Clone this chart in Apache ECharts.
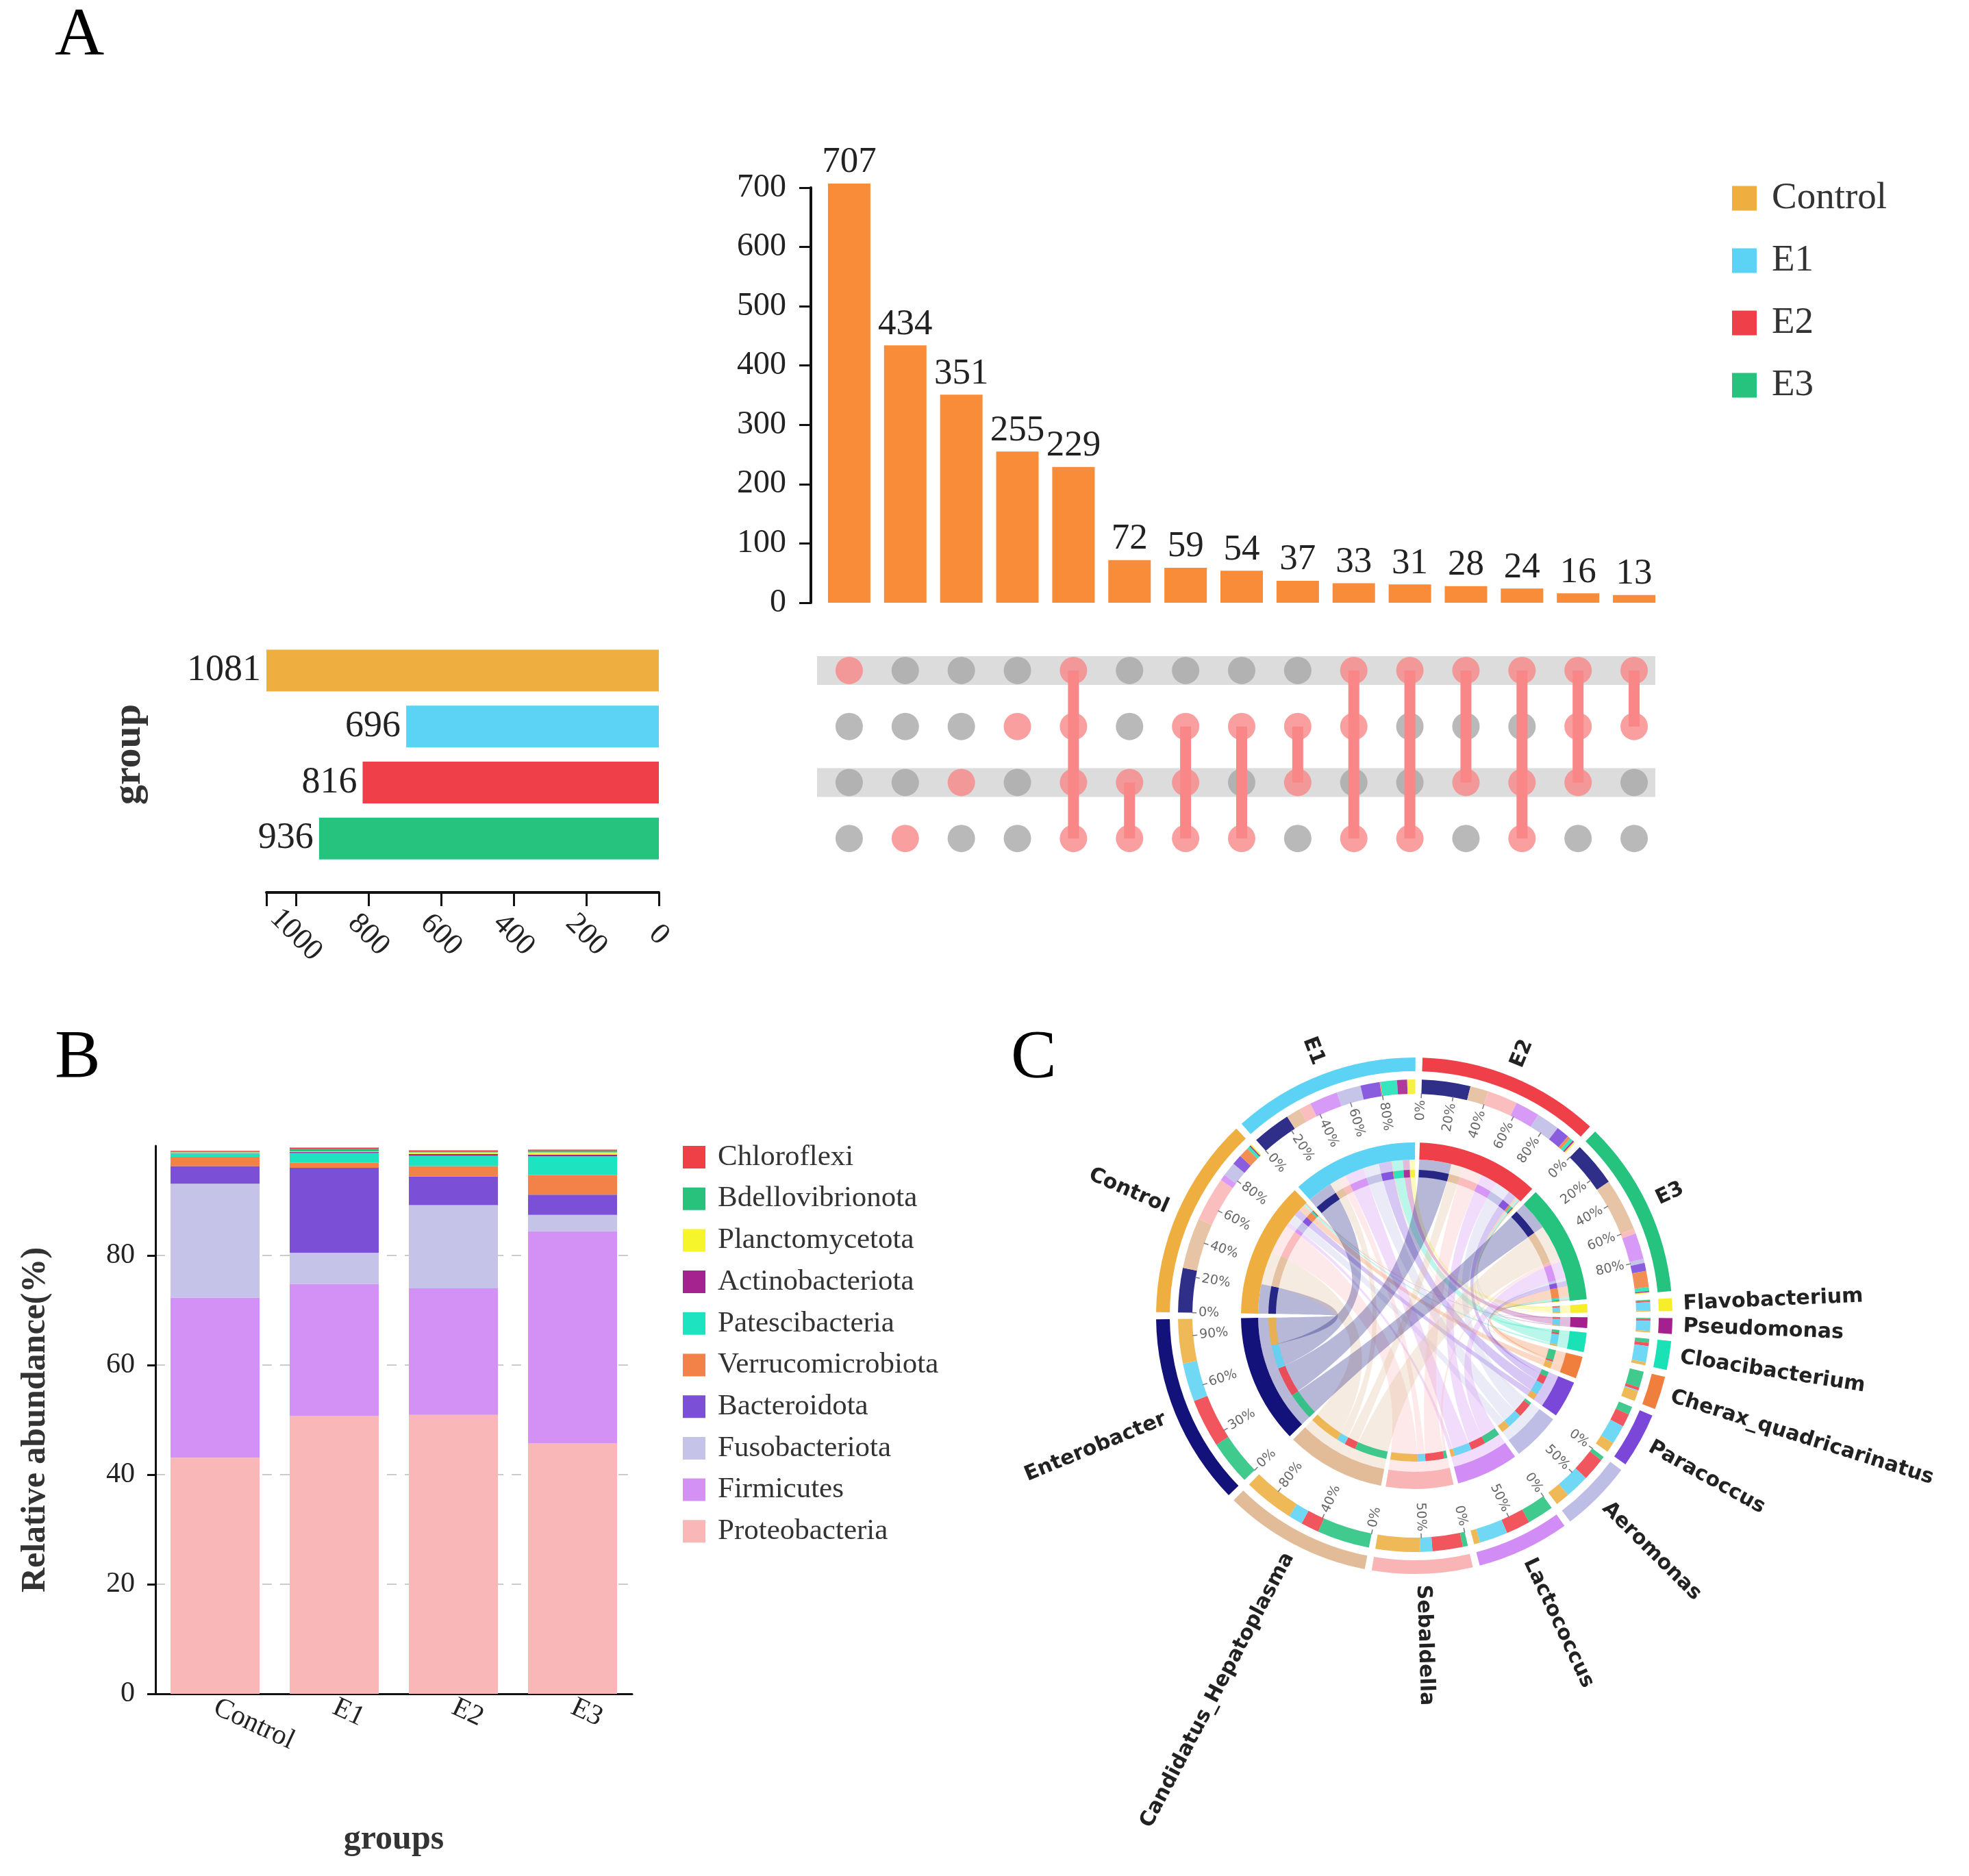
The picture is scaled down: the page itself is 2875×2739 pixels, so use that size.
<!DOCTYPE html>
<html><head><meta charset="utf-8">
<script src="https://cdn.jsdelivr.net/npm/echarts@6/dist/echarts.min.js"></script>
<style>html,body{margin:0;padding:0;background:#fff}#c{width:2875px;height:2739px}</style>
</head><body><div id="c"></div><script>
// ================= DATA =================
// Panel A : UpSet
const sets = ['Control', 'E1', 'E2', 'E3'];
const setSizes = [1081, 696, 816, 936];
const intersectionSizes = [707, 434, 351, 255, 229, 72, 59, 54, 37, 33, 31, 28, 24, 16, 13];
const intersectionMembers = [
  ['Control'], ['E3'], ['E2'], ['E1'], ['Control', 'E1', 'E2', 'E3'], ['E2', 'E3'],
  ['E1', 'E2', 'E3'], ['E1', 'E3'], ['E1', 'E2'], ['Control', 'E1', 'E3'], ['Control', 'E3'],
  ['Control', 'E2'], ['Control', 'E2', 'E3'], ['Control', 'E1', 'E2'], ['Control', 'E1']
];
const upsetTicks = [0, 100, 200, 300, 400, 500, 600, 700];
const setSizeTicks = [0, 200, 400, 600, 800, 1000];

// Panel B : phylum relative abundance (%)
const groupsB = ['Control', 'E1', 'E2', 'E3'];
const proteobacteria   = [43.1, 50.7, 50.9, 45.7];
const firmicutes       = [29.2, 24.1, 23.1, 38.7];
const fusobacteriota   = [20.8, 5.7, 15.2, 3.0];
const bacteroidota     = [3.2, 15.5, 5.2, 3.7];
const verrucomicrobiota = [1.7, 0.9, 1.9, 3.6];
const patescibacteria  = [0.6, 1.8, 1.9, 3.4];
const actinobacteriota = [0.1, 0.2, 0.3, 0.3];
const planctomycetota  = [0.1, 0.1, 0.3, 0.4];
const bdellovibrionota = [0.1, 0.5, 0.2, 0.3];
const chloroflexi      = [0.2, 0.2, 0.2, 0.2];
const phyla = ['Proteobacteria', 'Firmicutes', 'Fusobacteriota', 'Bacteroidota', 'Verrucomicrobiota',
  'Patescibacteria', 'Actinobacteriota', 'Planctomycetota', 'Bdellovibrionota', 'Chloroflexi'];
const phylumValues = [proteobacteria, firmicutes, fusobacteriota, bacteroidota, verrucomicrobiota,
  patescibacteria, actinobacteriota, planctomycetota, bdellovibrionota, chloroflexi];
const abundanceTicks = [0, 20, 40, 60, 80, 100];

// Panel C : genus abundance per group (chord)
const chordGroups = ['Control', 'E1', 'E2', 'E3'];
const chordGenera = ['Enterobacter', 'Candidatus_Hepatoplasma', 'Sebaldella', 'Lactococcus', 'Aeromonas',
  'Paracoccus', 'Cherax_quadricarinatus', 'Cloacibacterium', 'Pseudomonas', 'Flavobacterium'];
const chordControl = [22, 25, 22, 3, 7, 5, 5, 1.5, 0.7, 0.6];
const chordE1      = [19, 7, 6, 14, 12, 9.5, 0.5, 8, 5, 4];
const chordE2      = [24, 9, 15, 12, 11.5, 6.4, 1.5, 1.7, 0.8, 0.7];
const chordE3      = [22, 26, 2.5, 13, 2, 4, 8, 1.9, 0.6, 0.5];
const pctTickStep = {Control: 20, E1: 20, E2: 20, E3: 20, Enterobacter: 30,
  Candidatus_Hepatoplasma: 40, Sebaldella: 50, Lactococcus: 50, Aeromonas: 50};

// ================= STYLE =================
const groupColors = ['#EEAF40', '#5CD3F4', '#EF3F48', '#26C37E'];
const phylumColors = ['#F9B8B7', '#D391F6', '#C5C3E7', '#7B4FD6', '#F28247', '#1EE3C0', '#A4238F', '#F6F52B', '#29C27D', '#EF3F47'];
const genusColors = ['#12127A', '#E2BC98', '#F9B5B6', '#D18CF5', '#BEBDE6', '#7A47D9', '#F07F3D', '#1BE1B6', '#A3208E', '#F6EE2B'];
const SERIF = "'Liberation Serif', 'Times New Roman', serif";
const SANS = "'DejaVu Sans', sans-serif";
const barOrange = '#F98C38', dotOn = '#F98787', dotOff = '#A8A8A8';

// ================= PANEL C LAYOUT (derived from data) =================
const CX = 2065, CY = 1921;
const RA = [357, 377], RB = [324, 345], RC = [228, 253], RD = [202, 213], RRIB = 228, RLAB = 393;
const sum = a => a.reduce((s, v) => s + v, 0);
const chordMatrix = [chordControl, chordE1, chordE2, chordE3];
const groupTotals = chordMatrix.map(sum);
const genusTotals = chordGenera.map((_, k) => sum(chordMatrix.map(r => r[k])));
const grand = sum(groupTotals);
const GAP = 1.57;
const unit = (360 - GAP * (chordGroups.length + chordGenera.length)) / (2 * grand);
const nodes = [];
let cur = 180 - GAP / 2;
chordGroups.forEach((name, i) => {
  const span = groupTotals[i] * unit; const segs = []; let a = cur;
  chordGenera.forEach((g, k) => { const w = chordMatrix[i][k] * unit; segs.push({a1: a, a2: a - w, color: genusColors[k], key: k}); a -= w; });
  nodes.push({name, start: cur, end: cur - span, color: groupColors[i], segs});
  cur -= span + GAP;
});
for (let k = chordGenera.length - 1; k >= 0; k--) {
  const span = genusTotals[k] * unit; const segs = []; let a = cur;
  for (let i = chordGroups.length - 1; i >= 0; i--) { const w = chordMatrix[i][k] * unit; segs.push({a1: a, a2: a - w, color: groupColors[i], key: i}); a -= w; }
  nodes.push({name: chordGenera[k], start: cur, end: cur - span, color: genusColors[k], segs});
  cur -= span + GAP;
}
const links = [];
chordGroups.forEach((g, i) => chordGenera.forEach((gn, k) => {
  const gs = nodes[i].segs[k];
  const ts = nodes.find(n => n.name === gn).segs.find(s => s.key === i);
  links.push({s1: gs.a1, s2: gs.a2, t1: ts.a1, t2: ts.a2, color: genusColors[k]});
}));
const compSegs = nodes.flatMap(n => n.segs);
const ticks = [];
nodes.forEach(n => { const st = pctTickStep[n.name]; if (!st) return;
  for (let p = 0; p < 100; p += st) ticks.push({a: n.start - (n.start - n.end) * p / 100, text: p + '%'}); });

const D2R = Math.PI / 180;
const toXY = (r, deg) => [CX + r * Math.cos(deg * D2R), CY - r * Math.sin(deg * D2R)];
const sector = (rr, a1, a2, fill, op) => ({type: 'sector',
  shape: {cx: CX, cy: CY, r0: rr[0], r: rr[1], startAngle: -a1 * D2R, endAngle: -a2 * D2R, clockwise: true},
  style: {fill, opacity: op == null ? 1 : op}});
function ribbonPoints(l) {
  const pts = [];
  const arc = (a, b) => { const n = Math.max(2, Math.ceil(Math.abs(a - b) / 0.4)); for (let i = 0; i <= n; i++) pts.push(toXY(RRIB, a + (b - a) * i / n)); };
  const bez = (p0, p2) => { for (let i = 1; i < 40; i++) { const t = i / 40, u = 1 - t;
    pts.push([u * u * p0[0] + 2 * u * t * CX + t * t * p2[0], u * u * p0[1] + 2 * u * t * CY + t * t * p2[1]]); } };
  arc(l.s1, l.s2); bez(toXY(RRIB, l.s2), toXY(RRIB, l.t1)); arc(l.t1, l.t2); bez(toXY(RRIB, l.t2), toXY(RRIB, l.s1));
  return pts;
}

// ================= OPTION =================
const series = [];

// Panel A: intersection bars
series.push({type: 'bar', xAxisIndex: 0, yAxisIndex: 0, data: intersectionSizes, barWidth: 62, clip: false,
  itemStyle: {color: barOrange},
  label: {show: true, position: 'top', distance: 4, fontFamily: SERIF, fontSize: 53, color: '#222'}});
// matrix stripes
series.push({type: 'custom', xAxisIndex: 1, yAxisIndex: 1, z: 1, silent: true,
  data: sets.map((s, i) => [0, i]).filter((d, i) => i % 2 === 0),
  renderItem: (p, api) => { const y = api.coord([0, api.value(1)])[1]; const cs = p.coordSys;
    return {type: 'rect', shape: {x: cs.x - 6, y: y - 21, width: cs.width - 4, height: 42}, style: {fill: '#DCDCDC'}}; }});
// matrix dots
const dots = [];
intersectionMembers.forEach((m, c) => sets.forEach((s, r) => dots.push({value: [c, r], itemStyle: {color: m.includes(s) ? dotOn : dotOff}})));
series.push({type: 'scatter', xAxisIndex: 1, yAxisIndex: 1, z: 2, symbolSize: 40, data: dots, silent: true});
// matrix connectors
series.push({type: 'custom', xAxisIndex: 1, yAxisIndex: 1, z: 3, silent: true,
  encode: {x: 0, y: [1, 2]},
  data: intersectionMembers.map((m, c) => { const rows = m.map(s => sets.indexOf(s)); return [c, Math.min(...rows), Math.max(...rows)]; }).filter(d => d[1] !== d[2]),
  renderItem: (p, api) => { const a = api.coord([api.value(0), api.value(1)]); const b = api.coord([api.value(0), api.value(2)]);
    return {type: 'line', shape: {x1: a[0], y1: a[1], x2: b[0], y2: b[1]}, style: {stroke: dotOn, lineWidth: 16}}; }});
// set size bars
sets.forEach((s, i) => series.push({type: 'bar', name: s, xAxisIndex: 2, yAxisIndex: 2, stack: 'size', barWidth: 61,
  data: sets.map((t, j) => j === i ? setSizes[i] : '-'), itemStyle: {color: groupColors[i]},
  label: {show: true, position: 'left', distance: 8, fontFamily: SERIF, fontSize: 54, color: '#222'}}));
// Panel B stacked bars
phyla.forEach((ph, i) => series.push({type: 'bar', name: ph, xAxisIndex: 3, yAxisIndex: 3, stack: 'ab', barWidth: 130,
  data: phylumValues[i], itemStyle: {color: phylumColors[i]}}));
// Panel C chord
series.push({type: 'custom', coordinateSystem: 'none', z: 1, silent: true, data: links.map((l, i) => [i]),
  renderItem: (p) => { const l = links[p.dataIndex]; return {type: 'polygon', shape: {points: ribbonPoints(l)}, style: {fill: l.color, opacity: 0.3}}; }});
series.push({type: 'custom', coordinateSystem: 'none', z: 2, silent: true, data: nodes.map((n, i) => [i]),
  renderItem: (p) => { const n = nodes[p.dataIndex]; return {type: 'group', children: [sector(RA, n.start, n.end, n.color), sector(RC, n.start, n.end, n.color)]}; }});
series.push({type: 'custom', coordinateSystem: 'none', z: 3, silent: true, data: compSegs.map((s, i) => [i]),
  renderItem: (p) => { const s = compSegs[p.dataIndex]; return {type: 'group', children: [sector(RB, s.a1, s.a2, s.color, 0.88), sector(RD, s.a1, s.a2, s.color, 0.88)]}; }});
series.push({type: 'custom', coordinateSystem: 'none', z: 4, silent: true, data: ticks.map((t, i) => [i]),
  renderItem: (p) => { const t = ticks[p.dataIndex]; const right = Math.cos(t.a * D2R) > 0;
    const p1 = toXY(RB[0] + 1, t.a), p2 = toXY(RB[0] - 6, t.a), pl = toXY(RB[0] - 9, t.a);
    return {type: 'group', children: [
      {type: 'line', shape: {x1: p1[0], y1: p1[1], x2: p2[0], y2: p2[1]}, style: {stroke: '#777', lineWidth: 1.5}},
      {type: 'text', x: pl[0], y: pl[1], rotation: (right ? t.a : t.a - 180) * D2R,
        style: {text: t.text, fill: '#666', fontSize: 19, fontFamily: SANS, align: right ? 'right' : 'left', verticalAlign: 'middle'}}]}; }});
series.push({type: 'custom', coordinateSystem: 'none', z: 4, silent: true, data: nodes.map((n, i) => [i]),
  renderItem: (p) => { const n = nodes[p.dataIndex]; const mid = (n.start + n.end) / 2; const right = Math.cos(mid * D2R) > 0;
    const q = toXY(RLAB, mid);
    return {type: 'text', x: q[0], y: q[1], rotation: (right ? mid : mid - 180) * D2R,
      style: {text: n.name, fill: '#222', fontSize: 30, fontWeight: 'bold', fontFamily: SANS, align: right ? 'left' : 'right', verticalAlign: 'middle'}}; }});

const panelTitle = (t, l, tp) => ({text: t, left: l, top: tp, padding: 0, textStyle: {fontFamily: SERIF, fontSize: 100, fontWeight: 'normal', color: '#000'}});
const option = {
  animation: false, backgroundColor: '#fff',
  title: [panelTitle('A', 80, 4), panelTitle('B', 80, 1496), panelTitle('C', 1476, 1496)],
  legend: [
    {data: sets, orient: 'vertical', left: 2529, top: 262, padding: 0, itemWidth: 36, itemHeight: 36, itemGap: 36, icon: 'rect',
      selectedMode: false, textStyle: {fontFamily: SERIF, fontSize: 55, lineHeight: 55, color: '#333', padding: [0, 0, 0, 17]}},
    {data: phyla.slice().reverse(), orient: 'vertical', left: 997, top: 1668, padding: 0, itemWidth: 33, itemHeight: 33, itemGap: 17.7, icon: 'rect',
      selectedMode: false, textStyle: {fontFamily: SERIF, fontSize: 43, lineHeight: 43, color: '#333', padding: [0, 0, 0, 13]}}
  ],
  grid: [
    {left: 1199, top: 274, width: 1228, height: 606},
    {left: 1199, top: 938, width: 1228, height: 327},
    {left: 389, top: 938, width: 573, height: 327},
    {left: 227, top: 1673, width: 696, height: 800}
  ],
  xAxis: [
    {type: 'category', gridIndex: 0, data: intersectionSizes.map((v, i) => 'I' + (i + 1)), show: false},
    {type: 'category', gridIndex: 1, data: intersectionSizes.map((v, i) => 'I' + (i + 1)), show: false},
    {type: 'value', gridIndex: 2, inverse: true, min: setSizeTicks[0], max: 'dataMax', interval: setSizeTicks[1] - setSizeTicks[0],
      position: 'bottom', offset: 38, axisLine: {show: true, lineStyle: {color: '#111', width: 4}},
      axisTick: {show: true, length: 20, lineStyle: {color: '#111', width: 3}}, splitLine: {show: false},
      axisLabel: {rotate: -45, margin: 62, align: 'center', verticalAlign: 'middle', fontFamily: SERIF, fontSize: 44, color: '#222',
        formatter: v => setSizeTicks.includes(v) ? String(v) : ''}},
    {type: 'category', gridIndex: 3, data: groupsB,
      axisLine: {lineStyle: {color: '#111', width: 3}}, axisTick: {alignWithLabel: true, length: 12, lineStyle: {color: '#111', width: 3}},
      axisLabel: {rotate: -25, margin: 18, fontFamily: SERIF, fontSize: 41, color: '#222'},
      name: 'groups', nameLocation: 'middle', nameGap: 188, nameTextStyle: {fontFamily: SERIF, fontSize: 50, fontWeight: 'bold', color: '#333'}}
  ],
  yAxis: [
    {type: 'value', gridIndex: 0, min: upsetTicks[0], max: upsetTicks[upsetTicks.length - 1], interval: upsetTicks[1] - upsetTicks[0], offset: 15,
      axisLine: {show: true, lineStyle: {color: '#111', width: 4}}, axisTick: {show: true, length: 17, lineStyle: {color: '#111', width: 3}},
      splitLine: {show: false}, axisLabel: {margin: 36, fontFamily: SERIF, fontSize: 48, color: '#222'}},
    {type: 'category', gridIndex: 1, data: sets, inverse: true, show: false},
    {type: 'category', gridIndex: 2, data: sets, inverse: true, axisLine: {show: false}, axisTick: {show: false}, axisLabel: {show: false},
      name: 'group', nameLocation: 'middle', nameGap: 171, nameRotate: 90, nameTextStyle: {fontFamily: SERIF, fontSize: 58, fontWeight: 'bold', color: '#333'}},
    {type: 'value', gridIndex: 3, min: abundanceTicks[0], max: abundanceTicks[abundanceTicks.length - 1], interval: abundanceTicks[1] - abundanceTicks[0],
      axisLine: {show: true, lineStyle: {color: '#111', width: 3}}, axisTick: {show: true, length: 12, lineStyle: {color: '#111', width: 3}},
      axisLabel: {showMaxLabel: false, margin: 30, fontFamily: SERIF, fontSize: 42, color: '#222'},
      splitLine: {show: true, showMaxLine: false, showMinLine: false, lineStyle: {color: '#CCCCCC', width: 2, type: [14, 12]}},
      name: 'Relative abundance(%)', nameLocation: 'middle', nameGap: 150, nameRotate: 90,
      nameTextStyle: {fontFamily: SERIF, fontSize: 50, fontWeight: 'bold', color: '#333'}}
  ],
  series
};
const chart = echarts.init(document.getElementById('c'), null, {renderer: 'canvas', width: 2875, height: 2739});
chart.setOption(option);
</script></body></html>
